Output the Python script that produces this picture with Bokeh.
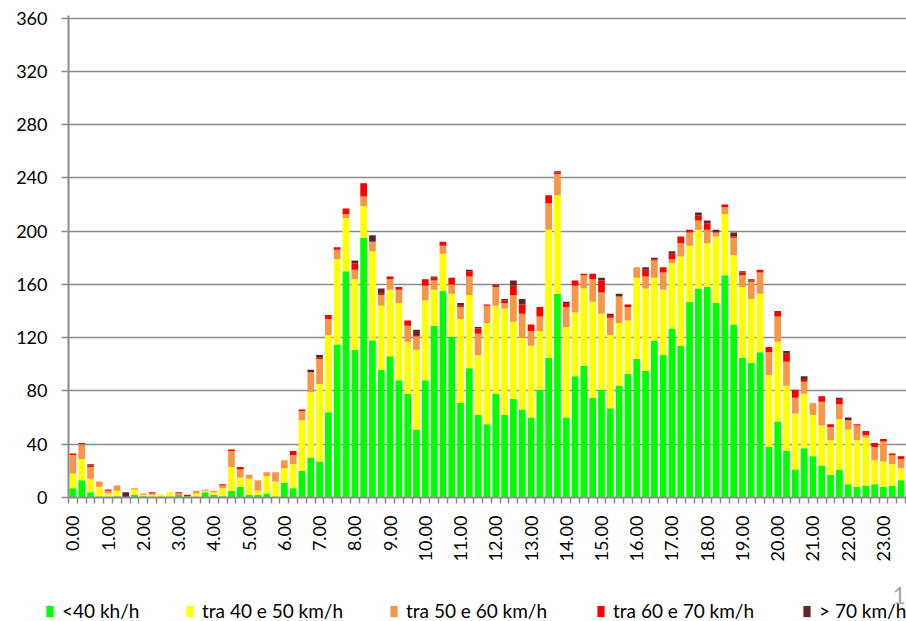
import math
from bokeh.plotting import figure
from bokeh.models import Range1d, FixedTicker, ColumnDataSource, Label, Legend, LegendItem
from bokeh.embed import file_html
from bokeh.resources import INLINE

# 15-minute slots, 0.00 .. 23.30 (the last slot is cut off in the original)
lt40 = [7, 13, 4, 0, 0, 1, 0, 2, 1, 0, 0, 0, 2, 1, 0, 4, 2, 1, 5, 8, 2, 2, 3, 0,
        11, 7, 20, 30, 27, 64, 115, 170, 111, 195, 118, 96, 106, 88, 78, 51,
        88, 129, 155, 121, 71, 97, 62, 55, 78, 62, 74, 66, 60, 81, 105, 153,
        60, 91, 99, 75, 81, 67, 84, 93, 104, 95, 118, 107, 127, 114, 147, 157,
        158, 146, 167, 130, 105, 101, 109, 38, 57, 35, 21, 37, 31, 24, 17, 21,
        10, 8, 9, 10, 8, 9, 13]
t40_50 = [11, 16, 10, 8, 3, 4, 0, 4, 1, 2, 2, 4, 0, 0, 3, 1, 2, 6, 18, 7, 12, 3, 13, 12,
          11, 18, 38, 49, 58, 58, 64, 40, 53, 24, 67, 48, 50, 58, 39, 60,
          60, 27, 28, 32, 63, 55, 45, 76, 66, 80, 58, 54, 54, 44, 96, 74,
          68, 48, 58, 72, 57, 55, 47, 40, 61, 62, 47, 49, 49, 67, 42, 44,
          33, 50, 46, 52, 53, 48, 44, 54, 60, 49, 42, 41, 31, 30, 26, 38,
          41, 35, 36, 18, 19, 16, 9]
t50_60 = [14, 11, 9, 4, 2, 4, 0, 1, 1, 1, 0, 0, 1, 0, 2, 1, 1, 2, 12, 6, 3, 8, 3, 7,
          6, 7, 7, 15, 19, 12, 7, 3, 7, 7, 7, 8, 8, 10, 12, 10,
          11, 7, 6, 7, 9, 14, 16, 13, 14, 4, 20, 18, 11, 11, 20, 16,
          15, 20, 10, 17, 16, 13, 20, 10, 8, 9, 13, 13, 3, 10, 10, 7,
          10, 3, 5, 13, 9, 13, 16, 17, 19, 18, 12, 9, 9, 18, 10, 11,
          7, 11, 2, 10, 15, 7, 7]
t60_70 = [1, 1, 1, 0, 1, 0, 0, 0, 0, 1, 0, 0, 1, 1, 0, 0, 0, 1, 1, 2, 0, 0, 0, 0,
          0, 3, 1, 0, 1, 3, 2, 4, 5, 10, 0, 1, 2, 2, 4, 1,
          5, 2, 3, 5, 1, 4, 4, 1, 1, 2, 7, 7, 5, 7, 6, 1,
          3, 4, 1, 4, 9, 2, 0, 2, 0, 5, 1, 4, 4, 5, 2, 4,
          5, 0, 2, 1, 2, 1, 2, 4, 4, 6, 6, 2, 0, 4, 2, 4,
          0, 1, 3, 3, 2, 1, 2]
gt70 = [0, 0, 1, 0, 0, 0, 4, 0, 0, 0, 0, 0, 0, 0, 0, 0, 0, 0, 0, 0, 0, 0, 0, 0,
        0, 0, 0, 2, 2, 0, 0, 0, 2, 0, 5, 4, 0, 0, 0, 4,
        0, 1, 0, 0, 2, 1, 1, 0, 1, 1, 4, 4, 0, 0, 0, 1,
        1, 0, 0, 0, 2, 1, 2, 0, 0, 2, 1, 0, 2, 0, 0, 2,
        2, 2, 0, 3, 1, 1, 0, 0, 0, 2, 0, 2, 0, 0, 0, 1,
        2, 0, 0, 0, 0, 0, 0]

hour_labels = ["0.00", "1.00", "2.00", "3.00", "4.00", "5.00", "6.00", "7.00",
               "8.00", "9.00", "10.00", "11.00", "12.00", "13.00", "14.00", "15.00",
               "16.00", "17.00", "18.00", "19.00", "20.00", "21.00", "22.00", "23.00"]
series_names = ["<40 kh/h", "tra 40 e 50 km/h", "tra 50 e 60 km/h",
                "tra 60 e 70 km/h", "> 70 km/h"]
colors = ["#00ff00", "#ffff00", "#f79646", "#ff0000", "#632523"]
y_ticks = [0, 40, 80, 120, 160, 200, 240, 280, 320, 360]

keys = ["s0", "s1", "s2", "s3", "s4"]
n = len(lt40)
source = ColumnDataSource(dict(x=list(range(n)), s0=lt40, s1=t40_50, s2=t50_60,
                               s3=t60_70, s4=gt70))

FONT = "Lato"
GRAY = "#8c8c8c"

p = figure(width=906, height=580, x_range=Range1d(-0.5, 94.62),
           y_range=Range1d(0, 362), output_backend="svg", toolbar_location=None,
           min_border_left=68, min_border_right=0, min_border_top=15,
           min_border_bottom=83)
p.outline_line_color = None

p.vbar_stack(keys, x="x", width=0.76, color=colors, line_color=None, source=source)

# y axis
p.yaxis.ticker = FixedTicker(ticks=y_ticks)
p.ygrid.ticker = FixedTicker(ticks=y_ticks)
p.ygrid.grid_line_color = GRAY
p.ygrid.grid_line_width = 1.5
p.xgrid.grid_line_color = None
p.yaxis.axis_line_color = GRAY
p.yaxis.axis_line_width = 2
p.yaxis.major_tick_line_color = GRAY
p.yaxis.major_tick_line_width = 1.5
p.yaxis.major_tick_out = 7
p.yaxis.major_tick_in = 0
p.yaxis.minor_tick_line_color = None
p.yaxis.major_label_standoff = 14
p.yaxis.major_label_text_font = FONT
p.yaxis.major_label_text_font_size = "18px"
p.yaxis.major_label_text_color = "black"

# x axis
hour_pos = list(range(0, 96, 4))
p.xaxis.ticker = FixedTicker(ticks=hour_pos, minor_ticks=[i - 0.5 for i in range(97)])
p.xaxis.major_label_overrides = {pos: lab for pos, lab in zip(hour_pos, hour_labels)}
p.xaxis.major_label_orientation = math.pi / 2
p.xaxis.axis_line_color = GRAY
p.xaxis.axis_line_width = 2
p.xaxis.major_tick_line_color = None
p.xaxis.major_tick_out = 6
p.xaxis.major_tick_in = 0
p.xaxis.minor_tick_line_color = GRAY
p.xaxis.minor_tick_line_width = 1.5
p.xaxis.minor_tick_out = 6
p.xaxis.minor_tick_in = 0
p.xaxis.major_label_standoff = 12
p.xaxis.major_label_text_font = FONT
p.xaxis.major_label_text_font_size = "18px"
p.xaxis.major_label_text_color = "black"

# legend strip below the chart (separate root, so its frame spans the full width)
leg = figure(width=906, height=41, x_range=Range1d(0, 1), y_range=Range1d(0, 1),
             output_backend="svg", toolbar_location=None,
             x_axis_location=None, y_axis_location=None,
             min_border_left=0, min_border_right=0, min_border_top=0,
             min_border_bottom=0)
leg.outline_line_color = None
leg.xgrid.grid_line_color = None
leg.ygrid.grid_line_color = None

legend_x = [45, 185, 389, 596, 802]
for name, col, lx in zip(series_names, colors, legend_x):
    # swatch source for the legend (placed outside the visible range)
    r = leg.vbar(x=[5], top=[5], width=0.5, color=col, line_color=None)
    lg = Legend(items=[LegendItem(label=name, renderers=[r])], location=(lx, -1),
                orientation="horizontal", glyph_width=9, glyph_height=14,
                label_standoff=8, padding=0, margin=0, spacing=0,
                border_line_color=None, background_fill_alpha=0,
                label_text_font=FONT, label_text_font_size="19px",
                label_text_color="black")
    leg.add_layout(lg)

leg.add_layout(Label(x=892, y=17.7, x_units="screen", y_units="screen", text="1",
                     text_font=FONT, text_font_size="23px", text_color="#a6a6a6"))

open("out.html", "w").write(file_html([p, leg], INLINE))
